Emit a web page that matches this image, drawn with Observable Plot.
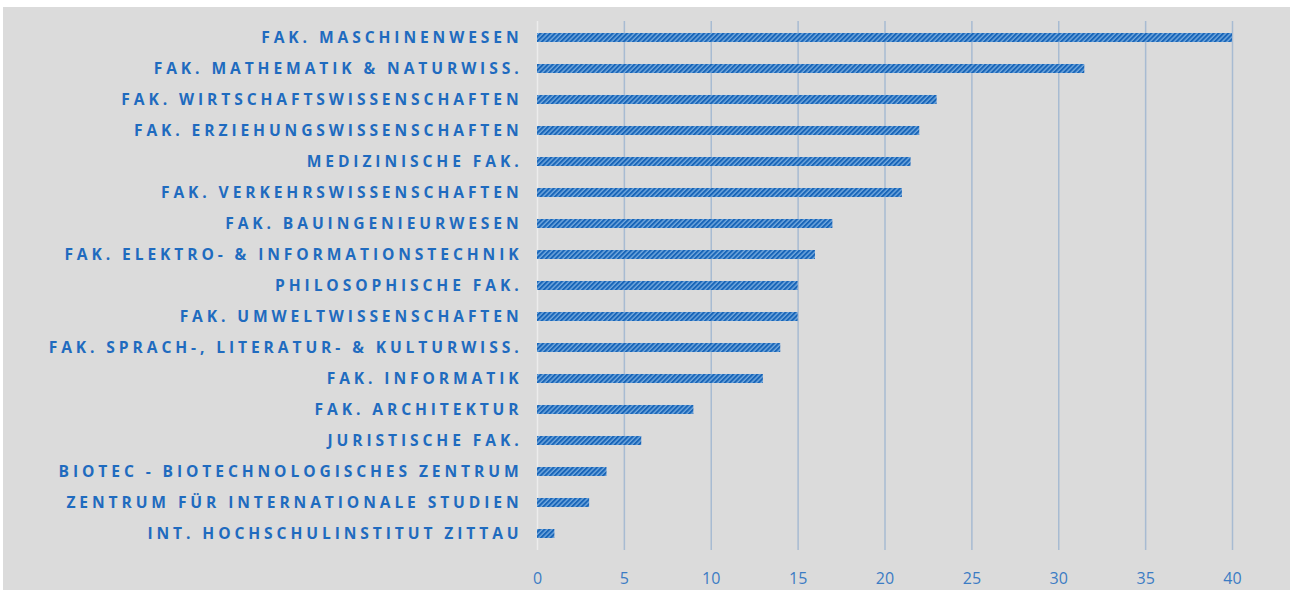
<!DOCTYPE html>
<html><head><meta charset="utf-8">
<script src="https://cdn.jsdelivr.net/npm/d3@7"></script>
<script src="https://cdn.jsdelivr.net/npm/@observablehq/plot@0.6"></script>
<style>
html,body{margin:0;padding:0;background:#fff;}
#wrap{position:absolute;left:3px;top:7px;width:1287px;height:583px;background:#dbdbdb;}
#wrap svg{background:transparent;display:block;}
g[aria-label="y-axis tick label"] text{letter-spacing:3.9px;}
</style></head>
<body><div id="wrap"></div>
<script>
const categories = [
  "FAK. MASCHINENWESEN",
  "FAK. MATHEMATIK & NATURWISS.",
  "FAK. WIRTSCHAFTSWISSENSCHAFTEN",
  "FAK. ERZIEHUNGSWISSENSCHAFTEN",
  "MEDIZINISCHE FAK.",
  "FAK. VERKEHRSWISSENSCHAFTEN",
  "FAK. BAUINGENIEURWESEN",
  "FAK. ELEKTRO- & INFORMATIONSTECHNIK",
  "PHILOSOPHISCHE FAK.",
  "FAK. UMWELTWISSENSCHAFTEN",
  "FAK. SPRACH-, LITERATUR- & KULTURWISS.",
  "FAK. INFORMATIK",
  "FAK. ARCHITEKTUR",
  "JURISTISCHE FAK.",
  "BIOTEC - BIOTECHNOLOGISCHES ZENTRUM",
  "ZENTRUM FÜR INTERNATIONALE STUDIEN",
  "INT. HOCHSCHULINSTITUT ZITTAU"
];
const values = [40, 31.5, 23, 22, 21.5, 21, 17, 16, 15, 15, 14, 13, 9, 6, 4, 3, 1];
const xTicks = [0, 5, 10, 15, 20, 25, 30, 35, 40];

const data = categories.map((c, i) => ({category: c, value: values[i]}));

const chart = Plot.plot({
  width: 1287,
  height: 583,
  marginLeft: 534,
  marginRight: 58,
  marginTop: 14,
  marginBottom: 40,
  style: {background: "transparent"},
  x: {domain: [0, 40], ticks: xTicks},
  y: {domain: categories, paddingInner: 0.71, paddingOuter: 0.355},
  marks: [
    Plot.ruleX(xTicks.filter(d => d > 0), {stroke: "#a7bbd2", strokeWidth: 1.5}),
    Plot.ruleX([0], {stroke: "#ececec", strokeWidth: 1.5}),
    Plot.barX(data, {x: "value", y: "category", fill: "url(#hatch)"}),
    Plot.axisY({tickSize: 0, tickPadding: 15, fontSize: 15.6, fontWeight: "bold", fill: "#1f6bbf", fontFamily: "Open Sans", label: null}),
    Plot.axisX({ticks: xTicks, tickSize: 0, tickPadding: 22, fontSize: 16, fill: "#3b7cc4", fontFamily: "Open Sans", label: null})
  ]
});

const svg = d3.select(chart);
const defs = svg.insert("defs", ":first-child");
const pat = defs.append("pattern")
  .attr("id", "hatch")
  .attr("patternUnits", "userSpaceOnUse")
  .attr("width", 3.4).attr("height", 3.4)
  .attr("patternTransform", "rotate(45)");
pat.append("rect").attr("width", 3.4).attr("height", 3.4).attr("fill", "#74a9de");
pat.append("rect").attr("width", 2).attr("height", 3.4).attr("fill", "#1865b8");

document.getElementById("wrap").appendChild(chart);
</script>
</body></html>
